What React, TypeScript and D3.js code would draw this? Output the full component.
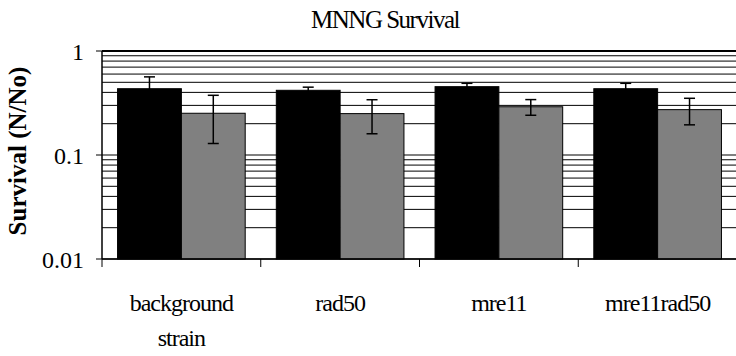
import React from "react";
import * as d3 from "d3";

// Survival fractions after MNNG treatment, two treatments per strain
const strains = ["background strain", "rad50", "mre11", "mre11rad50"];
const seriesA = [0.434, 0.419, 0.454, 0.434];
const seriesAErr = [0.13, 0.03, 0.035, 0.055];
const seriesB = [0.252, 0.25, 0.291, 0.273];
const seriesBErr = [0.123, 0.09, 0.05, 0.078];
const yTicks = [1, 0.1, 0.01];
const title = "MNNG Survival";
const yLabel = "Survival (N/No)";

const W = 736;
const H = 356;
const m = { left: 102, right: -1, top: 51, bottom: 97 };
const font = "'Liberation Serif', 'Times New Roman', serif";

export default function App() {
  const x0 = d3
    .scaleBand<string>()
    .domain(strains)
    .range([m.left, W - m.right])
    .paddingInner(0.196)
    .paddingOuter(0.098);
  const outer = d3.scaleBand<string>().domain(strains).range([m.left, W - m.right]);
  const y = d3.scaleLog().domain([0.01, 1]).range([H - m.bottom, m.top]);

  const bw = x0.bandwidth() / 2;
  const grid: number[] = [];
  [0.01, 0.1].forEach((d) => {
    for (let k = 1; k <= 9; k++) grid.push(d * k);
  });
  grid.push(1);

  const series = [
    { vals: seriesA, errs: seriesAErr, fill: "#000000", off: 0 },
    { vals: seriesB, errs: seriesBErr, fill: "#808080", off: 1 },
  ];

  return (
    <svg width={W} height={H} style={{ position: "absolute", left: 0, top: 0 }}>
      <rect width={W} height={H} fill="#fff" />
      <text
        x={385}
        y={28}
        textAnchor="middle"
        fontFamily={font}
        fontSize={25}
        letterSpacing={-1.5}
        fill="#000"
      >
        {title}
      </text>
      {grid.map((g) => (
        <line
          key={g}
          x1={m.left}
          x2={W}
          y1={y(g)}
          y2={y(g)}
          stroke="#000"
          strokeWidth={g === 1 ? 2 : 1}
        />
      ))}
      {series.map((s) =>
        strains.map((c, i) => {
          const bx = (x0(c) as number) + s.off * bw;
          return (
            <rect
              key={c + s.off}
              x={bx}
              y={y(s.vals[i])}
              width={bw}
              height={y(0.01) - y(s.vals[i])}
              fill={s.fill}
              stroke="#000"
              strokeWidth={1}
            />
          );
        })
      )}
      {series.map((s) =>
        strains.map((c, i) => {
          const cx = (x0(c) as number) + s.off * bw + bw / 2;
          const hi = y(s.vals[i] + s.errs[i]);
          const lo = y(Math.max(s.vals[i] - s.errs[i], 0.011));
          return (
            <g key={"e" + c + s.off} stroke="#000" strokeWidth={1.5}>
              <line x1={cx} x2={cx} y1={hi} y2={lo} />
              <line x1={cx - 5.5} x2={cx + 5.5} y1={hi} y2={hi} />
              <line x1={cx - 5.5} x2={cx + 5.5} y1={lo} y2={lo} />
            </g>
          );
        })
      )}
      {/* axes */}
      <line x1={m.left} x2={m.left} y1={m.top} y2={y(0.01)} stroke="#000" strokeWidth={1.5} />
      <line x1={m.left} x2={W} y1={y(0.01)} y2={y(0.01)} stroke="#000" strokeWidth={1.5} />
      {yTicks.map((t) => (
        <g key={t}>
          <line x1={m.left - 6} x2={m.left} y1={y(t)} y2={y(t)} stroke="#000" strokeWidth={1} />
          <text
            x={84}
            y={y(t) + 9}
            textAnchor="end"
            fontFamily={font}
            fontSize={24}
            fill="#000"
          >
            {String(t)}
          </text>
        </g>
      ))}
      {strains.map((c) => (
        <line
          key={"t" + c}
          x1={outer(c) as number}
          x2={outer(c) as number}
          y1={y(0.01)}
          y2={y(0.01) + 8}
          stroke="#000"
          strokeWidth={1}
        />
      ))}
      {strains.map((c) => {
        const cx = (outer(c) as number) + outer.bandwidth() / 2;
        const words = c === "background strain" ? ["background", "strain"] : [c];
        return (
          <text
            key={"l" + c}
            textAnchor="middle"
            fontFamily={font}
            fontSize={24}
            letterSpacing={-1}
            fill="#000"
          >
            {words.map((w, k) => (
              <tspan key={w} x={cx} y={311 + k * 35}>
                {w}
              </tspan>
            ))}
          </text>
        );
      })}
      <text
        transform={`translate(26,151) rotate(-90)`}
        textAnchor="middle"
        fontFamily={font}
        fontSize={25}
        fontWeight="bold"
        fill="#000"
      >
        {yLabel}
      </text>
    </svg>
  );
}
